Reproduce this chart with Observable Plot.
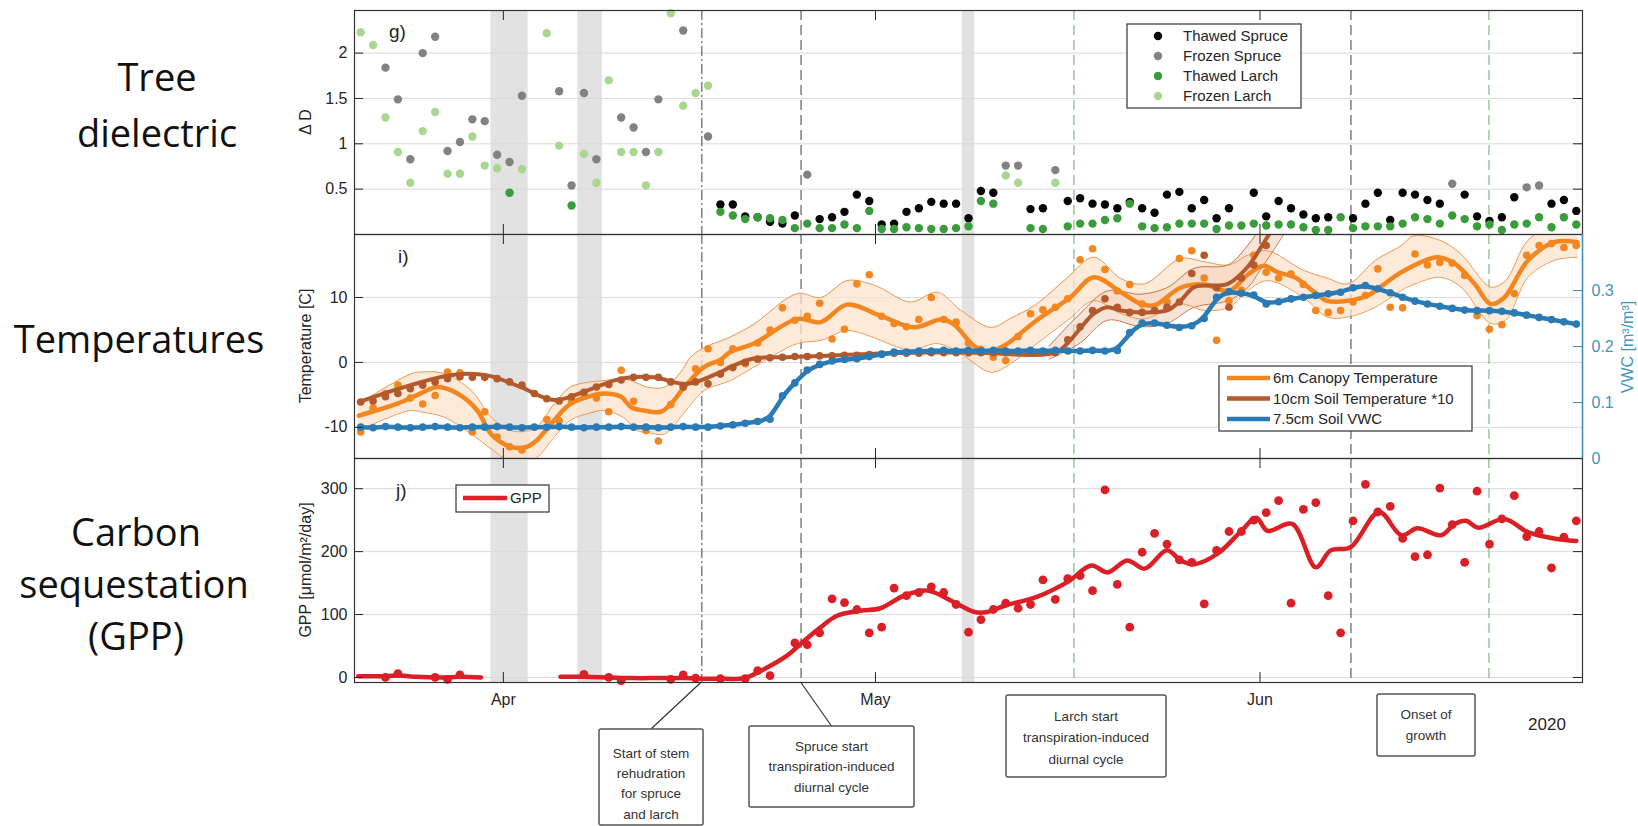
<!DOCTYPE html>
<html>
<head>
<meta charset="utf-8">
<title>Tree dielectric, temperatures and GPP, spring 2020</title>
<script src="https://cdn.jsdelivr.net/npm/d3@7"></script>
<script src="https://cdn.jsdelivr.net/npm/@observablehq/plot@0.6"></script>
<style>
  html, body { margin: 0; padding: 0; background: #fff; }
  #fig { position: relative; width: 1638px; height: 826px; overflow: hidden; background: #fff; }
  #fig > svg { position: absolute; left: 0; }
</style>
</head>
<body>
<div id="fig"></div>
<script>
// ---------- time axis: daily records starting 20 March 2020 ----------
const START = Date.UTC(2020, 2, 20);
const day = t => new Date(START + t * 864e5);   // t = days since 20 Mar
const noon = i => day(i + 0.5);

const monthTicks = ["2020-04-01", "2020-05-01", "2020-06-01"];
const monthLabels = ["Apr", "May", "Jun"];

// shaded periods
const greyBandFrom = ["2020-03-31", "2020-04-07", "2020-05-08"];
const greyBandTo   = ["2020-04-03", "2020-04-09", "2020-05-09"];

// phenology markers
const eventDates  = ["2020-04-17T00:00Z", "2020-04-25T00:00Z", "2020-05-17T00:00Z", "2020-06-08T08:00Z", "2020-06-19T11:00Z"];
const eventStyles = ["dashdot", "dark", "green", "dark", "green"];

// ---------- g) tree dielectric (delta D) ----------
const dTicks = [0.5, 1, 1.5, 2];
const frozenSpruceDay = [2,3,4,5,6,7,8,9,10,11,12,13,16,17,18,19,21,22,23,24,26,28,36,52,53,56,88,94,95];
const frozenSpruceD   = [1.84,1.49,0.83,2.00,2.18,0.92,1.02,1.27,1.25,0.88,0.80,1.53,1.58,0.54,1.56,0.83,1.29,1.18,0.91,1.49,2.25,1.08,0.66,0.76,0.76,0.71,0.56,0.52,0.54];
const frozenLarchDay  = [0,1,2,3,4,5,6,7,8,9,10,11,13,15,16,18,19,20,21,22,23,24,25,26,27,28,52,53,56];
const frozenLarchD    = [2.23,2.09,1.29,0.91,0.57,1.14,1.35,0.67,0.67,1.08,0.76,0.73,0.72,2.22,0.98,0.89,0.57,1.70,0.91,0.91,0.54,0.91,2.44,1.42,1.56,1.64,0.65,0.57,0.57];
const thawedLarchEarlyDay = [12, 17];
const thawedLarchEarlyD   = [0.46, 0.32];
const thawedFrom = 29;   // first day of the continuous thawed record
const thawedSpruceD = [
  0.33,0.33,0.20,0.19,0.14,0.12,0.21,null,0.17,0.19,
  0.25,0.44,0.37,0.11,0.12,0.25,0.29,0.36,0.34,0.34,
  0.18,0.48,0.46,null,null,0.28,0.29,null,0.37,0.40,
  0.34,0.33,0.29,0.36,0.29,0.24,0.44,0.47,0.29,0.38,
  0.18,0.29,null,0.46,0.20,0.37,0.29,0.22,0.18,0.19,
  null,0.18,0.34,0.46,0.16,0.46,0.44,0.38,0.34,null,
  0.44,0.20,0.15,0.19,0.41,null,null,0.34,0.38,0.26];
const thawedLarchD = [
  0.25,0.21,0.17,0.19,0.18,0.16,0.07,0.12,0.07,0.07,
  0.11,0.07,0.26,0.06,0.06,0.08,0.07,0.06,0.06,0.07,
  0.09,0.37,0.34,null,null,0.07,0.06,null,0.09,0.12,
  0.12,0.16,0.18,0.34,0.09,0.07,0.08,0.12,0.12,0.12,
  0.06,0.10,0.10,0.12,0.10,0.11,0.11,0.08,0.05,0.05,
  0.19,0.07,0.09,0.09,0.09,0.12,0.19,0.17,0.12,0.21,
  0.17,0.09,0.11,0.05,0.11,0.12,0.19,0.08,0.19,0.11];

// ---------- i) temperatures and soil moisture ----------
const tempTicks = [-10, 0, 10];
const tempDomain = [-14.8, 19.7];
const vwcDomain = [0, 0.4];
const vwcTicks = [0, 0.1, 0.2, 0.3];

// 6 m canopy temperature, daily means
const canopyDaily = [
  -10.7,-7.0,-4.8,-3.5,-5.5,-6.4,-5.1,-1.5,-1.6,-10.7,
  -7.6,-11.5,-13.0,-13.5,-15.5,-8.8,-9.0,-6.0,-5.0,-5.5,
  -7.6,-1.2,-6.0,-10.5,-12.1,-6.5,-3.8,-1.0,2.1,0.0,
  2.1,-0.2,3.0,5.0,8.4,6.5,7.1,9.1,3.6,5.1,
  12.1,13.5,7.1,6.0,5.5,6.6,10.0,6.6,6.2,3.0,
  2.0,0.8,0.3,4.0,7.5,8.1,8.5,9.8,15.8,17.5,
  14.3,11.0,12.0,9.0,8.0,9.3,16.0,17.2,13.0,3.4,
  9.5,11.1,16.5,13.9,13.0,13.6,12.0,8.0,7.7,8.0,
  9.3,10.3,14.4,8.5,8.4,16.7,15.0,15.4,15.3,13.4,
  7.2,5.1,5.8,10.6,16.5,18.0,18.3,17.7,18.0];
// smoothed canopy temperature
const canopyLineT = [0.35,3.4,5.3,6.7,8.3,9.9,11,12.6,13.9,14.7,16.1,17.4,18.8,20.1,21.5,22.3,23.3,24.7,25.5,26.6,28.2,29.5,30.3,32.2,35.7,37.6,39.7,42.4,45.1,47.3,48.3,49.9,51,52.4,55,57.7,59.6,61.8,63.4,64.5,66.6,68.5,70.5,72,73.3,74.4,75.8,77.4,78.4,80.1,81.7,82.5,84.4,87.3,88.7,90.3,91.6,92.7,94.6,96.7,98.6];
const canopyLineV = [-8.2,-6.4,-4.8,-3.8,-4.8,-7.4,-11,-13.0,-13,-12,-8.9,-6.4,-5.3,-4.8,-5.3,-6.9,-7.4,-7.6,-6.4,-3.8,-0.7,0.4,1.6,2.9,6.7,6.2,8.9,7.2,5.4,6.6,5.9,2.6,1.6,2.6,6.5,10.0,13.1,10.8,9.0,8.8,11.5,12.0,11.0,13.5,14.9,13.9,13.1,10.8,9.5,9.5,10.3,11.3,13.9,16.2,15.2,12.1,9.0,10.0,15.7,18.5,18.5];
// spread of canopy temperature
const canopyBandT  = [0.3,4.5,5.3,7.2,9.4,11,12.6,14.5,16.1,17.4,19,20.1,21.7,22.8,23.6,25,26.3,27.1,28.2,30.3,32.2,35.7,37.6,39.7,41.6,42.4,44.8,47,48.9,51.3,52.9,55,57.5,59.6,61.8,63.7,66.6,68.5,70.5,72,73.6,76.5,78.4,80.1,82.3,84.4,85.4,87.5,89.2,91.6,92.8,94.6,96.7,98.6];
const canopyBandHi = [-6.4,-1.8,-1.5,-1.7,-4.3,-8.4,-10.5,-10.2,-6.4,-3.8,-3.0,-2.8,-2.5,-3.2,-3.8,-3.8,-1.5,0.8,2.3,3.9,5.9,10.6,10.0,12.6,12.1,11.5,9.3,10.8,8.0,5.4,6.8,9.0,13.1,16.2,12.9,12.1,16.0,15.5,15.0,16.5,17.2,14.2,13.0,12.1,15.7,18.0,19.5,18.8,16.7,11.6,12.6,18.8,21.0,21.0];
const canopyBandLo = [-10.5,-7.4,-7.6,-8.4,-11.0,-13.3,-15.2,-14.9,-11.5,-8.9,-7.8,-7.4,-8.5,-10.5,-10.8,-11.0,-8.4,-6.5,-4.3,-2.8,-0.7,2.9,3.4,4.9,4.0,3.4,1.9,2.9,1.3,-1.5,-0.2,2.9,6.5,9.5,7.5,6.7,9.0,8.0,8.5,11.0,12.6,10.0,7.0,7.0,8.5,11.1,12.0,13.1,11.6,6.0,6.5,13.1,15.7,16.2];

// 10 cm soil temperature (x10), daily means
const soilDaily = [
  -6.1,-5.95,-5.3,-4.8,-4.05,-3.5,-3.0,-2.5,-2.2,-2.3,
  -2.3,-2.5,-3.0,-3.5,-4.8,-5.6,-5.95,-5.3,-4.6,-3.8,
  -3.4,-2.7,-2.3,-2.3,-2.3,-3.0,-3.8,-3.0,-3.3,-1.8,
  -0.8,0.0,0.5,0.7,0.8,0.9,0.9,1.0,1.0,1.1,
  1.1,1.2,1.3,1.4,1.4,1.4,1.5,1.5,1.5,1.5,
  1.5,1.5,1.5,1.5,1.5,1.5,1.5,3.5,5.5,8.0,
  9.8,8.5,7.7,7.7,8.0,8.5,9.3,13.7,16.5,11.5,
  8.5,13.0,15.0,18.0];
const soilLineT = [0.35,4,8,10.7,13.4,16.1,18.8,21.5,24.1,26.8,29.5,30.3,32.2,34.9,37.6,41.6,45,50,56.5,57.5,58.5,59.6,60.7,61.8,63.4,65.5,66.6,67.7,70.4,72,73.1,74,75];
const soilLineV = [-6.1,-3.8,-1.9,-2.0,-3.8,-5.8,-4.3,-2.5,-2.3,-3.3,-1.5,-0.7,0.6,0.8,1.0,1.3,1.5,1.5,1.5,3.0,5.2,7.5,8.5,8.0,7.7,8.0,9.5,11.6,12.1,14.7,17.8,20.5,23];
const soilBandT  = [56,58.5,60.7,63.4,65.5,67.7,70.4,72,73.1,74,75];
const soilBandHi = [2.5,7.5,11.0,10.5,11.5,14.5,15.0,18.0,21.0,24.0,27.0];
const soilBandLo = [0.5,3.0,6.5,5.5,6.0,8.5,9.5,11.5,14.5,17.0,20.0];

// 7.5 cm soil volumetric water content, daily means
const vwcDaily = [
  0.056,0.055,0.057,0.056,0.055,0.056,0.057,0.056,0.055,0.056,
  0.056,0.057,0.056,0.055,0.056,0.056,0.057,0.056,0.055,0.056,
  0.056,0.057,0.056,0.056,0.055,0.056,0.057,0.056,0.056,0.058,
  0.060,0.063,0.066,0.070,0.112,0.135,0.158,0.168,0.174,0.177,
  0.178,0.182,0.186,0.190,0.190,0.192,0.192,0.193,0.192,0.193,
  0.192,0.193,0.192,0.192,0.193,0.192,0.193,0.192,0.192,0.193,
  0.192,0.193,0.225,0.242,0.242,0.238,0.234,0.237,0.250,0.288,
  0.298,0.295,0.292,0.276,0.280,0.285,0.288,0.291,0.294,0.297,
  0.305,0.309,0.303,0.296,0.288,0.281,0.276,0.272,0.268,0.265,
  0.264,0.264,0.263,0.260,0.256,0.252,0.248,0.244,0.240];

// ---------- j) gross primary production ----------
const gppTicks = [0, 100, 200, 300];
const gppDay = [2,3,6,7,8,18,20,21,25,26,27,29,31,32,33,35,36,37,38,39,40,41,42,43,44,45,46,47,48,49,50,51,52,53,54,55,56,57,58,59,60,61,62,63,64,65,66,67,68,69,70,71,72,73,74,75,76,77,78,79,80,81,82,83,84,85,86,87,88,89,90,91,92,93,94,95,96,97,98];
const gppDaily = [0,6,0,-3,4,5,0,-5,-3,4,-1,-2,-2,11,3,55,52,71,125,119,108,71,80,142,130,135,144,135,116,72,92,108,118,110,116,155,124,157,162,138,298,148,80,199,229,212,187,183,117,202,232,232,250,262,281,118,267,278,130,71,249,307,263,272,221,192,195,301,243,183,296,212,252,289,224,232,174,223,249];
const gppLineT = [0.3,2,3.6,5,7,8.5,10.2,13,16.6,18.5,20.5,22.5,24.5,26.5,28.5,29.5,31.4,32.7,34.9,36,37.6,38.9,40.8,42.4,44.3,46.2,48.3,50,51,52.4,55,57.5,59.4,60.7,62.3,63.7,65.5,66.6,67.7,69.6,71.5,72.7,73.6,75.6,77.5,78.7,80.3,82.6,84.4,85.7,87.6,88.7,89.6,90.6,92.7,94.6,96.7,98.5];
const gppLineV = [2,2,3,1,0,1,0,null,1,1,0,-1,-1,-1,-2,-2,-1,10,35,54,80,98,106,110,130,138,120,104,104,114,128,152,178,167,186,173,202,186,180,197,233,254,233,244,175,202,207,263,226,237,226,244,249,238,252,231,221,217];

// ---------- colours ----------
const C = {
  thawedSpruce: "#050505", frozenSpruce: "#828282",
  thawedLarch: "#3a9c3a", frozenLarch: "#a9d78f",
  canopy: "#f4861f", bandFill: "#fde3cb", bandEdge: "#ec9a58",
  soil: "#b3592b", soilBand: "#f1d2bf", soilEdge: "#c27a52",
  vwc: "#2a7bb5", vwcAxis: "#3f94c4",
  gpp: "#db1f26", shade: "#e2e2e2", grid: "#dadada",
  dark: "#6b6b6b", green: "#86c086", ink: "#262626"
};
const FONT = '"Liberation Sans", Arial, Helvetica, sans-serif';

// ---------- derived tables ----------
const rowsByDay = (days, vals) => days.map((d, i) => ({date: noon(d), v: vals[i]}));
const rowsFrom = (from, vals) => vals.map((v, i) => ({date: noon(from + i), v}));
const rowsT = (ts, vals) => ts.map((t, i) => ({date: day(t), v: vals[i]}));
const bandRows = (ts, lo, hi) => ts.map((t, i) => ({date: day(t), lo: lo[i], hi: hi[i]}));

const monthDates = monthTicks.map(d => new Date(d));
const greyBands = greyBandFrom.map((f, i) => ({from: new Date(f), to: new Date(greyBandTo[i])}));
const events = eventDates.map((d, i) => ({date: new Date(d), style: eventStyles[i]}));

const vwcToTemp = v => tempDomain[0] + (v - vwcDomain[0]) / (vwcDomain[1] - vwcDomain[0]) * (tempDomain[1] - tempDomain[0]);
const tempToVwc = t => vwcDomain[0] + (t - tempDomain[0]) / (tempDomain[1] - tempDomain[0]) * (vwcDomain[1] - vwcDomain[0]);

// ---------- shared panel furniture ----------
const ML = 354, MR = 56, W = 1638, PANEL_H = 224;
const innerW = W - ML - MR;

function backdrop(yTicks) {
  return [
    Plot.rect(greyBands, {x1: "from", x2: "to", fill: C.shade}),
    Plot.gridY(yTicks, {stroke: C.grid, strokeOpacity: 1, strokeWidth: 1}),
    Plot.ruleX(events.filter(e => e.style === "dashdot"), {x: "date", stroke: C.dark, strokeWidth: 1.3, strokeDasharray: "10,3,2,3"}),
    Plot.ruleX(events.filter(e => e.style === "dark"), {x: "date", stroke: C.dark, strokeWidth: 1.3, strokeDasharray: "10,5"}),
    Plot.ruleX(events.filter(e => e.style === "green"), {x: "date", stroke: C.green, strokeWidth: 1.3, strokeDasharray: "10,5"})
  ];
}
function furniture(yTicks) {
  return [
    Plot.tickX(monthDates, {insetTop: PANEL_H - 10, stroke: C.ink}),
    Plot.tickX(monthDates, {insetBottom: PANEL_H - 10, stroke: C.ink}),
    Plot.tickY(yTicks, {insetRight: innerW - 9, stroke: C.ink}),
    Plot.frame({stroke: "#333", strokeWidth: 1.2})
  ];
}
function plotStyle() {
  return {background: "transparent", fontFamily: FONT, fontSize: "16px", color: C.ink};
}
const xOpts = (axis) => ({type: "utc", domain: [day(0), day(99)], ...(axis ? {} : {axis: null})});
const leftAxis = (ticks) => Plot.axisY(ticks, {anchor: "left", tickSize: 0, tickPadding: 7, fontSize: 16, label: null, tickFormat: d => String(d)});

// ---------- panel g ----------
const plotG = Plot.plot({
  width: W, height: PANEL_H + 20, marginLeft: ML, marginRight: MR, marginTop: 10, marginBottom: 10,
  x: xOpts(false), y: {domain: [0, 2.47]},
  style: plotStyle(),
  marks: [
    ...backdrop(dTicks),
    Plot.dot(rowsByDay(frozenSpruceDay, frozenSpruceD), {x: "date", y: "v", r: 4.2, fill: C.frozenSpruce}),
    Plot.dot(rowsByDay(frozenLarchDay, frozenLarchD), {x: "date", y: "v", r: 4.2, fill: C.frozenLarch}),
    Plot.dot(rowsFrom(thawedFrom, thawedSpruceD), {x: "date", y: "v", r: 4.2, fill: C.thawedSpruce}),
    Plot.dot(rowsByDay(thawedLarchEarlyDay, thawedLarchEarlyD), {x: "date", y: "v", r: 4.2, fill: C.thawedLarch}),
    Plot.dot(rowsFrom(thawedFrom, thawedLarchD), {x: "date", y: "v", r: 4.2, fill: C.thawedLarch}),
    leftAxis(dTicks),
    Plot.tickY(dTicks, {insetLeft: innerW - 9, stroke: C.ink}),
    ...furniture(dTicks)
  ]
});

// ---------- panel i ----------
const canopyBand = bandRows(canopyBandT, canopyBandLo, canopyBandHi);
const soilBand = bandRows(soilBandT, soilBandLo, soilBandHi);
const vwcRows = rowsFrom(0, vwcDaily).map(d => ({date: d.date, v: vwcToTemp(d.v)}));
const plotI = Plot.plot({
  width: W, height: PANEL_H + 20, marginLeft: ML, marginRight: MR, marginTop: 10, marginBottom: 10,
  x: xOpts(false), y: {domain: tempDomain},
  style: plotStyle(),
  marks: [
    ...backdrop(tempTicks),
    Plot.areaY(canopyBand, {x: "date", y1: "lo", y2: "hi", fill: C.bandFill, fillOpacity: 0.75, curve: "catmull-rom", clip: true}),
    Plot.areaY(soilBand, {x: "date", y1: "lo", y2: "hi", fill: C.soilBand, fillOpacity: 0.6, curve: "catmull-rom", clip: true}),
    Plot.line(canopyBand, {x: "date", y: "hi", stroke: C.bandEdge, strokeWidth: 1, curve: "catmull-rom", clip: true}),
    Plot.line(canopyBand, {x: "date", y: "lo", stroke: C.bandEdge, strokeWidth: 1, curve: "catmull-rom", clip: true}),
    Plot.line(soilBand, {x: "date", y: "hi", stroke: C.soilEdge, strokeWidth: 1, curve: "catmull-rom", clip: true}),
    Plot.line(soilBand, {x: "date", y: "lo", stroke: C.soilEdge, strokeWidth: 1, curve: "catmull-rom", clip: true}),
    Plot.line(rowsT(canopyLineT, canopyLineV), {x: "date", y: "v", stroke: C.canopy, strokeWidth: 4.5, curve: "catmull-rom", clip: true}),
    Plot.dot(rowsFrom(0, canopyDaily), {x: "date", y: "v", r: 3.8, fill: C.canopy, clip: true}),
    Plot.line(rowsT(soilLineT, soilLineV), {x: "date", y: "v", stroke: C.soil, strokeWidth: 4, curve: "catmull-rom", clip: true}),
    Plot.dot(rowsFrom(0, soilDaily), {x: "date", y: "v", r: 3.8, fill: C.soil, clip: true}),
    Plot.line(vwcRows, {x: "date", y: "v", stroke: C.vwc, strokeWidth: 4.5, curve: "basis", clip: true}),
    Plot.dot(vwcRows, {x: "date", y: "v", r: 3.8, fill: C.vwc, clip: true}),
    leftAxis(tempTicks),
    Plot.axisY(vwcTicks.map(vwcToTemp), {anchor: "right", tickSize: 0, tickPadding: 9, fontSize: 16, label: null, color: C.vwcAxis,
      tickFormat: t => { const v = Math.round(tempToVwc(t) * 10) / 10; return v === 0 ? "0" : v.toFixed(1); }}),
    Plot.tickY(vwcTicks.map(vwcToTemp), {insetLeft: innerW - 9, stroke: C.vwcAxis}),
    ...furniture(tempTicks),
    Plot.ruleX([day(99)], {stroke: C.vwcAxis, strokeWidth: 1.4})
  ]
});

// ---------- panel j ----------
const plotJ = Plot.plot({
  width: W, height: PANEL_H + 154, marginLeft: ML, marginRight: MR, marginTop: 10, marginBottom: 144,
  x: xOpts(true), y: {domain: [-8, 348]},
  style: plotStyle(),
  marks: [
    ...backdrop(gppTicks),
    Plot.line(rowsT(gppLineT, gppLineV), {x: "date", y: "v", stroke: C.gpp, strokeWidth: 4.5, curve: "catmull-rom"}),
    Plot.dot(rowsByDay(gppDay, gppDaily), {x: "date", y: "v", r: 4.4, fill: C.gpp}),
    leftAxis(gppTicks),
    Plot.tickY(gppTicks, {insetLeft: innerW - 9, stroke: C.ink}),
    Plot.axisX(monthDates, {anchor: "bottom", tickSize: 0, tickPadding: 11, fontSize: 16, label: null,
      tickFormat: d => monthLabels[monthDates.findIndex(m => +m === +d)]}),
    ...furniture(gppTicks)
  ]
});

const fig = document.getElementById("fig");
plotG.style.top = "0px";   fig.append(plotG);
plotI.style.top = "224px"; fig.append(plotI);
plotJ.style.top = "448px"; fig.append(plotJ);

// ---------- annotations, legends and titles ----------
const ov = d3.create("svg").attr("width", W).attr("height", 826)
  .style("top", "0px").attr("font-family", FONT).attr("fill", C.ink);

// row headings
const headings = [
  {x: 157, y: 78, text: "Tree"}, {x: 157, y: 134, text: "dielectric"},
  {x: 139, y: 340, text: "Temperatures"},
  {x: 136, y: 533, text: "Carbon"}, {x: 134, y: 585, text: "sequestation"}, {x: 136, y: 637, text: "(GPP)"}
];
const hg = ov.append("g").attr("font-family", '"Open Sans", "Noto Sans", sans-serif')
  .attr("font-size", 38).attr("fill", "#111").attr("text-anchor", "middle");
headings.forEach(h => hg.append("text").attr("x", h.x).attr("y", h.y).attr("dy", "0.35em").text(h.text));

// axis titles
const titles = [
  {y: 122, text: "\u0394 D"},
  {y: 346, text: "Temperature [C]"},
  {y: 570, text: "GPP [\u03BCmol/m\u00B2/day]"}
];
titles.forEach(t => ov.append("text").attr("transform", `translate(305,${t.y}) rotate(-90)`)
  .attr("text-anchor", "middle").attr("dy", "0.35em").attr("font-size", 16).text(t.text));
ov.append("text").attr("transform", "translate(1633,347) rotate(-90)")
  .attr("text-anchor", "middle").attr("font-size", 16).attr("fill", C.vwcAxis).text("VWC [m\u00B3/m\u00B3]");

// panel letters
[{x: 389, y: 38, t: "g)"}, {x: 398, y: 263, t: "i)"}, {x: 396, y: 497, t: "j)"}]
  .forEach(p => ov.append("text").attr("x", p.x).attr("y", p.y).attr("font-size", 19).text(p.t));

// legend: tree dielectric
const lg = ov.append("g");
lg.append("rect").attr("x", 1127).attr("y", 24).attr("width", 174).attr("height", 84)
  .attr("fill", "#fff").attr("stroke", "#333").attr("stroke-width", 1.2);
[["Thawed Spruce", C.thawedSpruce], ["Frozen Spruce", C.frozenSpruce], ["Thawed Larch", C.thawedLarch], ["Frozen Larch", C.frozenLarch]]
  .forEach(([name, col], i) => {
    const y = 36 + i * 20;
    lg.append("circle").attr("cx", 1158).attr("cy", y).attr("r", 4.2).attr("fill", col);
    lg.append("text").attr("x", 1183).attr("y", y).attr("dy", "0.35em").attr("font-size", 15).text(name);
  });

// legend: temperatures
const li = ov.append("g");
li.append("rect").attr("x", 1219).attr("y", 366).attr("width", 253).attr("height", 65)
  .attr("fill", "#fff").attr("stroke", "#333").attr("stroke-width", 1.2);
[["6m Canopy Temperature", C.canopy], ["10cm Soil Temperature *10", C.soil], ["7.5cm Soil VWC", C.vwc]]
  .forEach(([name, col], i) => {
    const y = 378 + i * 20.5;
    li.append("line").attr("x1", 1227).attr("x2", 1270).attr("y1", y).attr("y2", y).attr("stroke", col).attr("stroke-width", 4.5);
    li.append("text").attr("x", 1273).attr("y", y).attr("dy", "0.35em").attr("font-size", 15).text(name);
  });

// legend: GPP
const lj = ov.append("g");
lj.append("rect").attr("x", 456).attr("y", 485).attr("width", 93).attr("height", 27)
  .attr("fill", "#fff").attr("stroke", "#333").attr("stroke-width", 1.2);
lj.append("line").attr("x1", 463).attr("x2", 507).attr("y1", 498).attr("y2", 498).attr("stroke", C.gpp).attr("stroke-width", 4.5);
lj.append("text").attr("x", 510).attr("y", 498).attr("dy", "0.35em").attr("font-size", 15).text("GPP");

// year label
ov.append("text").attr("x", 1547).attr("y", 724).attr("dy", "0.35em").attr("text-anchor", "middle").attr("font-size", 17).text("2020");

// annotation boxes
const xJ = plotJ.scale("x");
const frameBottom = 682;
const boxes = [
  {x: 599, y: 729, w: 104, h: 96, lines: ["Start of stem", "rehudration", "for spruce", "and larch"], ly: 753, step: 20.3, event: 0},
  {x: 749, y: 726, w: 165, h: 81, lines: ["Spruce start", "transpiration-induced", "diurnal cycle"], ly: 746, step: 20.5, event: 1},
  {x: 1006, y: 695, w: 160, h: 82, lines: ["Larch start", "transpiration-induced", "diurnal cycle"], ly: 716, step: 21.5},
  {x: 1377, y: 694, w: 98, h: 62, lines: ["Onset of", "growth"], ly: 714, step: 21}
];
const bg = ov.append("g");
boxes.forEach(b => {
  const cx = b.x + b.w / 2;
  if (b.event !== undefined) {
    bg.append("line").attr("x1", xJ.apply(events[b.event].date)).attr("y1", frameBottom)
      .attr("x2", cx).attr("y2", b.y).attr("stroke", "#333").attr("stroke-width", 1.2);
  }
  bg.append("rect").attr("x", b.x).attr("y", b.y).attr("width", b.w).attr("height", b.h).attr("rx", 2)
    .attr("fill", "#fff").attr("stroke", "#555").attr("stroke-width", 1.5);
  b.lines.forEach((t, i) => bg.append("text").attr("x", cx).attr("y", b.ly + i * b.step).attr("dy", "0.35em")
    .attr("text-anchor", "middle").attr("font-size", 13.5).attr("fill", "#333").text(t));
});

fig.append(ov.node());
</script>
</body>
</html>
